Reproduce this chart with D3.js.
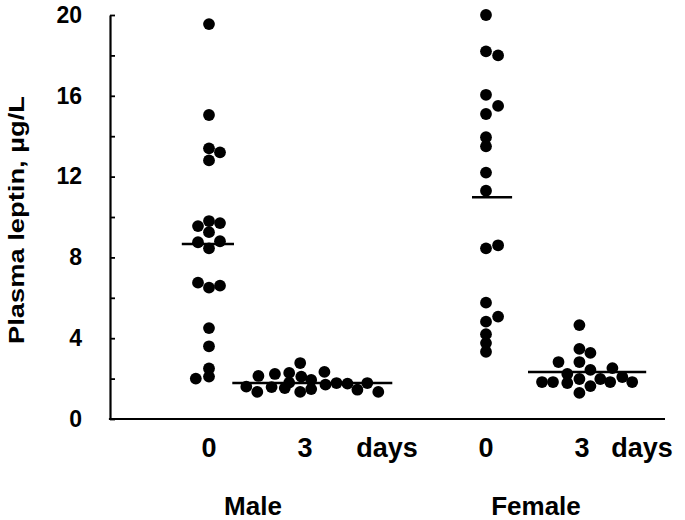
<!DOCTYPE html>
<html>
<head>
<meta charset="utf-8">
<script src="https://cdn.jsdelivr.net/npm/d3@7"></script>
<style>
  html, body { margin: 0; padding: 0; background: #fff; }
  svg { display: block; }
  text { font-family: "Liberation Sans", Arial, sans-serif; font-weight: bold; fill: #000; }
</style>
</head>
<body>
<script>
// ---------------- DATA ----------------
const sexes = ["Male", "Female"];
const days = [0, 3];
const yTicks = [0, 2, 4, 6, 8, 10, 12, 14, 16, 18, 20];
const yTickLabels = ["0", "", "4", "", "8", "", "12", "", "16", "", "20"];

// plasma leptin values (µg/L) per group, and their beeswarm column (in dot widths)
const maleDay0 = [19.55, 15.05, 13.4, 13.2, 12.8, 9.55, 9.8, 9.7, 9.25, 8.75, 8.8, 8.45, 6.75, 6.5, 6.6, 4.5, 3.6, 2.5, 2.0, 2.1];
const maleDay0Col = [0, 0, 0, 1, 0, -1, 0, 1, 0, -1, 1, 0, -1, 0, 1, 0, 0, 0, -1.2, 0];

const maleDay3 = [2.77, 2.13, 2.23, 2.28, 2.33, 2.10, 1.93, 1.60, 1.34, 1.58, 1.53, 1.34, 1.48, 1.70, 1.78, 1.75, 1.45, 1.78, 1.34, 1.80];
const maleDay3Col = [-0.8, -4.6, -3.1, -1.8, 1.4, -0.7, 0.2, -5.7, -4.7, -3.4, -2.2, -0.8, 0.2, 1.5, 2.5, 3.5, 4.4, 5.3, 6.3, -1.8];

const femaleDay0 = [20.0, 18.2, 18.0, 16.05, 15.5, 15.1, 13.95, 13.5, 12.2, 11.3, 8.45, 8.6, 5.76, 5.07, 4.82, 4.2, 3.76, 3.33];
const femaleDay0Col = [0, 0, 1.1, 0, 1.1, 0, 0, 0, 0, 0, 0, 1.1, 0, 1.1, 0, 0, 0, 0];

const femaleDay3 = [4.65, 3.47, 3.27, 2.82, 2.82, 2.52, 2.43, 2.23, 1.83, 1.83, 1.78, 1.98, 1.98, 2.08, 1.83, 1.83, 1.63, 1.29];
const femaleDay3Col = [-0.6, -0.6, 0.4, -2.5, -0.6, 2.4, 0.4, -1.7, -4.0, -3.0, -1.7, -0.6, 1.3, 3.3, 2.2, 4.2, 0.4, -0.6];

// median bars
const medianValues = [8.66, 1.78, 10.98, 2.33];

const yTitle = "Plasma leptin, µg/L";
const dayUnit = "days";

// ---------------- LAYOUT ----------------
const W = 685, H = 520;
const axisLeft = 110, axisRight = 665, axisTop = 15, axisBottom = 419;
const dotR = 5.9;
const slotPx = 11;

const groups = [
  { sex: "Male", day: 0, values: maleDay0, cols: maleDay0Col, median: medianValues[0] },
  { sex: "Male", day: 3, values: maleDay3, cols: maleDay3Col, median: medianValues[1] },
  { sex: "Female", day: 0, values: femaleDay0, cols: femaleDay0Col, median: medianValues[2] },
  { sex: "Female", day: 3, values: femaleDay3, cols: femaleDay3Col, median: medianValues[3] }
];

const svg = d3.select("body").append("svg").attr("width", W).attr("height", H);

const y = d3.scaleLinear().domain([0, 20]).range([axisBottom, axisTop]);
const sexScale = d3.scalePoint().domain(sexes).range([259, 536]);
const dayScale = d3.scalePoint().domain(days).range([-50, 50]);
const colScale = d3.scaleLinear().domain([0, 1]).range([0, slotPx]);
const groupX = g => sexScale(g.sex) + dayScale(g.day);

// y axis (ticks point inward)
const yAxis = d3.axisLeft(y)
  .tickValues(yTicks)
  .tickSizeInner(-5)
  .tickSizeOuter(0)
  .tickPadding(28)
  .tickFormat((d, i) => yTickLabels[i]);

const gy = svg.append("g").attr("transform", `translate(${axisLeft},0)`).call(yAxis);
gy.select(".domain").attr("stroke", "#000").attr("stroke-width", 2.2);
gy.selectAll(".tick line").attr("stroke", "#000").attr("stroke-width", 1.8);
gy.selectAll(".tick text")
  .style("font-size", "23px")
  .style("font-family", "'Liberation Sans', Arial, sans-serif")
  .style("font-weight", "bold")
  .attr("fill", "#000");

// x axis line (no ticks)
const xLine = d3.scaleLinear().domain([0, 1]).range([axisLeft, axisRight]);
svg.append("line")
  .attr("x1", xLine(0) - 1.1).attr("x2", xLine(1))
  .attr("y1", axisBottom).attr("y2", axisBottom)
  .attr("stroke", "#000").attr("stroke-width", 2.2);

// dots
groups.forEach(g => {
  const cx = groupX(g);
  svg.append("g").selectAll("circle")
    .data(g.values.map((v, i) => ({ v, c: g.cols[i] })))
    .join("circle")
    .attr("cx", d => cx + colScale(d.c))
    .attr("cy", d => y(d.v))
    .attr("r", dotR)
    .attr("fill", "#000");
  // median line spanning the swarm plus margin
  const ext = d3.extent(g.cols);
  svg.append("line")
    .attr("x1", cx + colScale(ext[0]) - 14)
    .attr("x2", cx + colScale(ext[1]) + 14)
    .attr("y1", y(g.median)).attr("y2", y(g.median))
    .attr("stroke", "#000").attr("stroke-width", 2.4);
});

// day labels
const labelY = 457;
sexes.forEach(s => {
  days.forEach(d => {
    svg.append("text")
      .attr("x", sexScale(s) + dayScale(d) - (d === 3 ? 4 : 0))
      .attr("y", labelY)
      .attr("text-anchor", "middle")
      .style("font-size", "27px")
      .text(d);
  });
  svg.append("text")
    .attr("x", sexScale(s) + dayScale(3) + (s === "Male" ? 78 : 56))
    .attr("y", labelY)
    .attr("text-anchor", "middle")
    .style("font-size", "27px")
    .text(dayUnit);
  svg.append("text")
    .attr("x", sexScale(s) - (s === "Male" ? 6 : 0))
    .attr("y", 515)
    .attr("text-anchor", "middle")
    .style("font-size", "26px")
    .text(s);
});

// y title
svg.append("text")
  .attr("transform", "translate(24,220) rotate(-90)")
  .attr("text-anchor", "middle")
  .attr("textLength", 248)
  .attr("lengthAdjust", "spacingAndGlyphs")
  .style("font-size", "22px")
  .text(yTitle);
</script>
</body>
</html>
